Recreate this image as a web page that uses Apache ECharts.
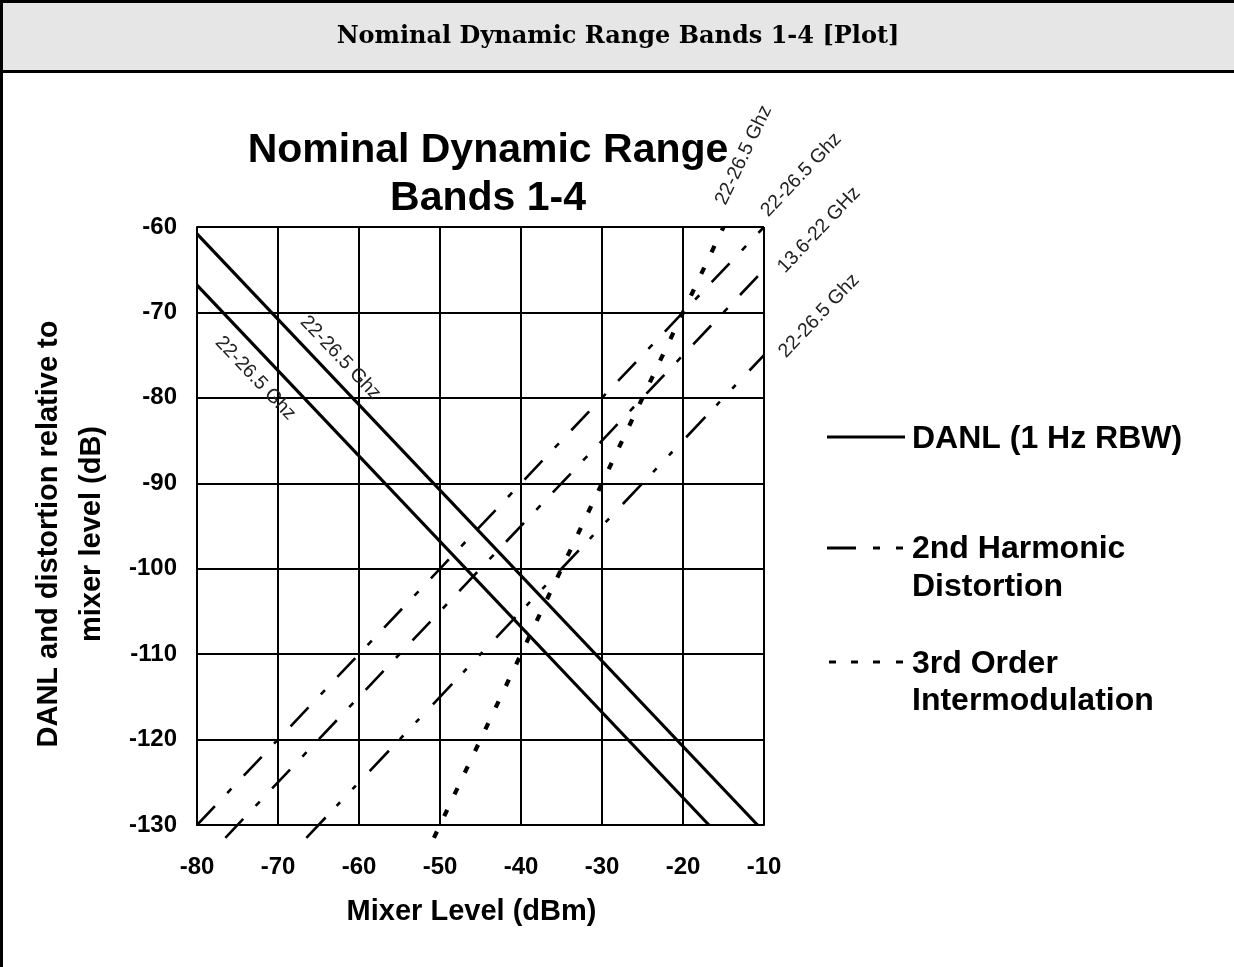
<!DOCTYPE html>
<html>
<head>
<meta charset="utf-8">
<script src="https://cdn.jsdelivr.net/npm/echarts@6/dist/echarts.min.js"></script>
<style>
html,body{margin:0;padding:0;background:#fff;}
#chart{width:1234px;height:967px;}
</style>
</head>
<body>
<div id="chart"></div>
<script>
// ---- data (dB relative to mixer level vs mixer level in dBm) ----
const xTicks = [-80, -70, -60, -50, -40, -30, -20, -10];
const yTicks = [-130, -120, -110, -100, -90, -80, -70, -60];
// DANL (1 Hz RBW), two bands
const danlA = [[-80, -60.8], [-10.8, -130]];
const danlB = [[-80, -66.8], [-16.8, -130]];
// 2nd harmonic distortion lines
const shdA = [[-80, -130], [-10, -60]];
const shdB = [[-76.5, -131.5], [-10, -65]];
const shdC = [[-66.5, -131.5], [-10, -75]];
// 3rd order intermodulation
const toiA = [[-50.75, -131.5], [-15, -60]];
// line annotations: text, anchor (data coords), slope kind
const notes = [
  {text: '22-26.5 Ghz', at: [-62.3, -75.3], dir: -1},
  {text: '22-26.5 Ghz', at: [-72.8, -77.7], dir: -1},
  {text: '22-26.5 Ghz', at: [-12.5, -51.6], dir: 2},
  {text: '22-26.5 Ghz', at: [-5.4, -53.9], dir: 1},
  {text: '13.6-22 GHz', at: [-3.2, -60.35], dir: 1},
  {text: '22-26.5 Ghz', at: [-3.2, -70.4], dir: 1}
];

const FONT = 'Liberation Sans, Arial, sans-serif';
const chart = echarts.init(document.getElementById('chart'), null, {renderer: 'canvas'});

function lineSeries(name, data, width, dash) {
  return {
    name: name, type: 'line', data: data, showSymbol: false, symbol: 'none',
    clip: false, silent: true, animation: false,
    lineStyle: {color: '#000', width: width, type: dash || 'solid', cap: 'butt'}
  };
}

const option = {
  backgroundColor: '#fff',
  animation: false,
  title: [{
    text: 'Nominal Dynamic Range\nBands 1-4',
    left: 483, top: 122, textAlign: 'center',
    textStyle: {fontFamily: FONT, fontSize: 41, fontWeight: 'bold', color: '#000', lineHeight: 48}
  }],
  grid: {left: 197, right: 470, top: 227, bottom: 142, containLabel: false},
  xAxis: {
    type: 'value', min: -80, max: -10, interval: 10,
    name: 'Mixer Level (dBm)', nameLocation: 'middle', nameGap: 72,
    nameTextStyle: {fontFamily: FONT, fontSize: 29, fontWeight: 'bold', color: '#000', padding: [0, 18, 0, 0]},
    axisLine: {show: true, lineStyle: {color: '#000', width: 2}},
    axisTick: {show: false},
    axisLabel: {fontFamily: FONT, fontSize: 24, fontWeight: 'bold', color: '#000', margin: 30,
      formatter: v => xTicks.includes(v) ? String(v) : ''},
    splitLine: {show: true, lineStyle: {color: '#000', width: 2}}
  },
  yAxis: {
    type: 'value', min: -130, max: -60, interval: 10,
    name: 'DANL and distortion relative to\nmixer level (dB)', nameLocation: 'middle', nameGap: 84,
    nameRotate: 90,
    nameTextStyle: {fontFamily: FONT, fontSize: 29, fontWeight: 'bold', color: '#000', lineHeight: 43, padding: [0, 16, 0, 0]},
    axisLine: {show: true, lineStyle: {color: '#000', width: 2}},
    axisTick: {show: false},
    axisLabel: {fontFamily: FONT, fontSize: 24, fontWeight: 'bold', color: '#000', margin: 20,
      formatter: v => yTicks.includes(v) ? String(v) : ''},
    splitLine: {show: true, lineStyle: {color: '#000', width: 2}}
  },
  series: [
    lineSeries('DANL A', danlA, 3.2),
    lineSeries('DANL B', danlB, 3.2),
    lineSeries('SHD A', shdA, 2.6, [26, 18, 6, 18]),
    lineSeries('SHD B', shdB, 2.6, [26, 18, 6, 18]),
    lineSeries('SHD C', shdC, 2.6, [28, 16, 5, 18, 5, 20]),
    lineSeries('TOI A', toiA, 4.2, [7, 17])
  ]
};
chart.setOption(option);

// ---- decorations: header band, frame, line labels, legend ----
const gfx = [];
gfx.push({type: 'rect', shape: {x: 1.5, y: 1.5, width: 1300, height: 70},
  style: {fill: '#e6e6e6', stroke: '#000', lineWidth: 3}, z: 0});
gfx.push({type: 'line', shape: {x1: 1.5, y1: 71, x2: 1.5, y2: 1000},
  style: {stroke: '#000', lineWidth: 3}});
gfx.push({type: 'text', x: 618, y: 37, style: {
  text: 'Nominal Dynamic Range Bands 1-4 [Plot]', fill: '#000',
  font: 'bold 24px "DejaVu Serif", serif', textAlign: 'center', textVerticalAlign: 'middle'}});

const pxPerX = (chart.convertToPixel({gridIndex: 0}, [-10, -130])[0] - chart.convertToPixel({gridIndex: 0}, [-80, -130])[0]) / 70;
const pxPerY = (chart.convertToPixel({gridIndex: 0}, [-80, -130])[1] - chart.convertToPixel({gridIndex: 0}, [-80, -60])[1]) / 70;
notes.forEach(n => {
  const p = chart.convertToPixel({gridIndex: 0}, n.at);
  const rot = Math.atan(n.dir * pxPerY / pxPerX);
  gfx.push({type: 'text', x: p[0], y: p[1], rotation: rot, style: {
    text: n.text, fill: '#222', font: '19.5px ' + FONT, textAlign: 'center', textVerticalAlign: 'middle'}});
});

// legend
const LX = 827, TX = 912;
const legendFont = 'bold 32px ' + FONT;
gfx.push({type: 'line', shape: {x1: LX, y1: 437, x2: 905, y2: 437}, style: {stroke: '#000', lineWidth: 3}});
gfx.push({type: 'text', x: TX, y: 439, style: {text: 'DANL (1 Hz RBW)', fill: '#000', font: legendFont, textVerticalAlign: 'middle'}});
gfx.push({type: 'line', shape: {x1: LX, y1: 548, x2: 856, y2: 548}, style: {stroke: '#000', lineWidth: 3}});
gfx.push({type: 'line', shape: {x1: 873, y1: 548, x2: 880, y2: 548}, style: {stroke: '#000', lineWidth: 3}});
gfx.push({type: 'line', shape: {x1: 896, y1: 548, x2: 903, y2: 548}, style: {stroke: '#000', lineWidth: 3}});
gfx.push({type: 'text', x: TX, y: 549, style: {text: '2nd Harmonic', fill: '#000', font: legendFont, textVerticalAlign: 'middle'}});
gfx.push({type: 'text', x: TX, y: 587, style: {text: 'Distortion', fill: '#000', font: legendFont, textVerticalAlign: 'middle'}});
[829, 851, 873, 896].forEach(x0 => {
  gfx.push({type: 'line', shape: {x1: x0, y1: 662, x2: x0 + 7, y2: 662}, style: {stroke: '#000', lineWidth: 3}});
});
gfx.push({type: 'text', x: TX, y: 664, style: {text: '3rd Order', fill: '#000', font: legendFont, textVerticalAlign: 'middle'}});
gfx.push({type: 'text', x: TX, y: 701, style: {text: 'Intermodulation', fill: '#000', font: legendFont, textVerticalAlign: 'middle'}});

chart.setOption({graphic: {elements: gfx}});
</script>
</body>
</html>
